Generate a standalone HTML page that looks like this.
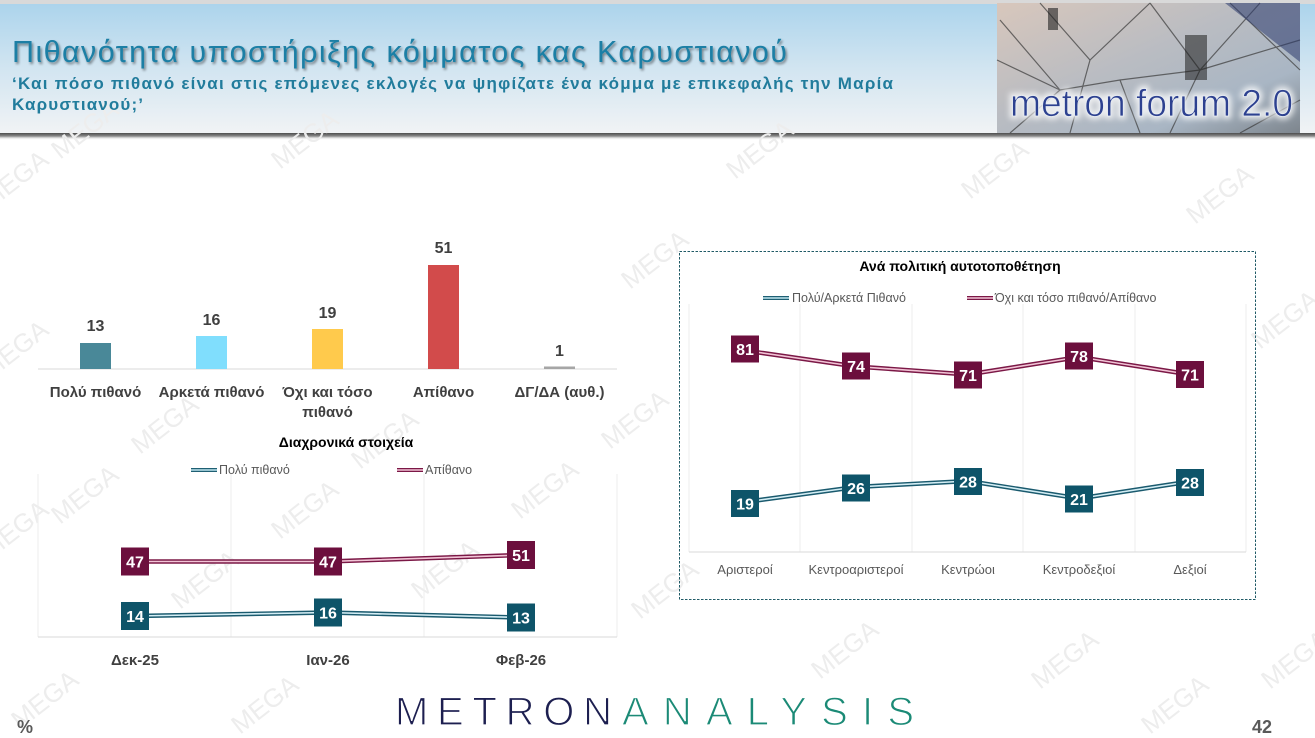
<!DOCTYPE html>
<html><head><meta charset="utf-8">
<style>
html,body{margin:0;padding:0;background:#fff;}
svg{display:block;}
text{font-family:"Liberation Sans","DejaVu Sans",sans-serif;}
</style></head>
<body>
<svg width="1315" height="738" viewBox="0 0 1315 738" xmlns="http://www.w3.org/2000/svg">
<defs>
<linearGradient id="hdr" x1="0" y1="0" x2="0" y2="1">
<stop offset="0" stop-color="#acd4ec"/>
<stop offset="0.5" stop-color="#d2e5f1"/>
<stop offset="1" stop-color="#f1f3f5"/>
</linearGradient>
<linearGradient id="shd" x1="0" y1="0" x2="0" y2="1">
<stop offset="0" stop-color="#4d4d4d"/>
<stop offset="0.45" stop-color="#8a8a8a"/>
<stop offset="1" stop-color="#ffffff" stop-opacity="0"/>
</linearGradient>
<linearGradient id="logo" x1="0" y1="0" x2="1" y2="1">
<stop offset="0" stop-color="#d8c7bc"/>
<stop offset="0.45" stop-color="#b9bcc2"/>
<stop offset="0.75" stop-color="#a9b6c4"/>
<stop offset="1" stop-color="#7d858d"/>
</linearGradient>
<filter id="ts" x="-5%" y="-20%" width="110%" height="150%">
<feGaussianBlur in="SourceAlpha" stdDeviation="1.2"/>
<feOffset dx="1.5" dy="2" result="o"/>
<feComponentTransfer><feFuncA type="linear" slope="0.45"/></feComponentTransfer>
<feMerge><feMergeNode/><feMergeNode in="SourceGraphic"/></feMerge>
</filter>
<filter id="glow" x="-10%" y="-30%" width="120%" height="160%">
<feGaussianBlur stdDeviation="3"/>
</filter>
</defs>

<!-- header background -->
<rect x="0" y="0" width="1315" height="4" fill="#d9d9d9"/>
<rect x="0" y="4" width="1315" height="130" fill="url(#hdr)"/>
<rect x="0" y="133" width="1315" height="7" fill="url(#shd)"/>

<!-- watermarks -->
<g font-size="26" fill="#ededed">
<text transform="translate(60,160) rotate(-38)">MEGA</text>
<text transform="translate(280,170) rotate(-38)">MEGA</text>
<text transform="translate(735,180) rotate(-38)">MEGA</text>
<text transform="translate(970,200) rotate(-38)">MEGA</text>
<text transform="translate(1195,225) rotate(-38)">MEGA</text>
<text transform="translate(-10,210) rotate(-38)">MEGA</text>
<text transform="translate(630,290) rotate(-38)">MEGA</text>
<text transform="translate(1260,350) rotate(-38)">MEGA</text>
<text transform="translate(-10,380) rotate(-38)">MEGA</text>
<text transform="translate(140,455) rotate(-38)">MEGA</text>
<text transform="translate(360,470) rotate(-38)">MEGA</text>
<text transform="translate(610,450) rotate(-38)">MEGA</text>
<text transform="translate(60,525) rotate(-38)">MEGA</text>
<text transform="translate(280,540) rotate(-38)">MEGA</text>
<text transform="translate(520,520) rotate(-38)">MEGA</text>
<text transform="translate(-10,560) rotate(-38)">MEGA</text>
<text transform="translate(180,610) rotate(-38)">MEGA</text>
<text transform="translate(420,600) rotate(-38)">MEGA</text>
<text transform="translate(640,620) rotate(-38)">MEGA</text>
<text transform="translate(820,680) rotate(-38)">MEGA</text>
<text transform="translate(1040,690) rotate(-38)">MEGA</text>
<text transform="translate(1270,690) rotate(-38)">MEGA</text>
<text transform="translate(20,730) rotate(-38)">MEGA</text>
<text transform="translate(240,735) rotate(-38)">MEGA</text>
<text transform="translate(1150,735) rotate(-38)">MEGA</text>
</g>

<text x="12" y="62" font-size="30.5" fill="#1c7fa5" filter="url(#ts)" textLength="775" lengthAdjust="spacing">Πιθανότητα υποστήριξης κόμματος κας Καρυστιανού</text>
<text x="12" y="89" font-size="17" font-weight="bold" fill="#217c9c" textLength="881" lengthAdjust="spacing">‘Και πόσο πιθανό είναι στις επόμενες εκλογές να ψηφίζατε ένα κόμμα με επικεφαλής την Μαρία</text>
<text x="12" y="110" font-size="17" font-weight="bold" fill="#217c9c" textLength="131" lengthAdjust="spacing">Καρυστιανού;’</text>

<!-- logo image approximation -->
<rect x="997" y="3" width="303" height="130" fill="url(#logo)"/>
<g stroke="#3a3a3a" stroke-width="1.2" fill="none" opacity="0.7">
<path d="M1000,20 L1060,90 L1010,133"/>
<path d="M1040,3 L1090,60 L1150,3"/>
<path d="M1090,60 L1070,133"/>
<path d="M1150,3 L1200,70 L1260,3"/>
<path d="M1200,70 L1300,40"/>
<path d="M1200,70 L1170,133"/>
<path d="M1230,3 L1300,70"/>
<path d="M997,60 L1060,90 L1120,80 L1200,70"/>
<path d="M1120,80 L1140,133"/>
<path d="M1240,133 L1300,100"/>
</g>
<path d="M1225,3 L1300,62 L1300,3 Z" fill="#2c3b6e" opacity="0.55"/>
<rect x="1048" y="8" width="10" height="22" fill="#222" opacity="0.6"/>
<rect x="1185" y="35" width="22" height="45" fill="#1f1f1f" opacity="0.55"/>
<text x="1010" y="116" font-size="38" fill="#ffffff" stroke="#ffffff" stroke-width="6" opacity="0.75" filter="url(#glow)" textLength="283" lengthAdjust="spacingAndGlyphs">metron forum 2.0</text>
<text x="1010" y="116" font-size="38" fill="#2d4190" stroke="#e8edf3" stroke-width="0.8" textLength="283" lengthAdjust="spacingAndGlyphs">metron forum 2.0</text>

<!-- bar chart -->
<line x1="38" y1="369" x2="617" y2="369" stroke="#d9d9d9" stroke-width="1"/>
<rect x="80" y="343" width="31" height="26" fill="#498898"/>
<rect x="196" y="336" width="31" height="33" fill="#80defd"/>
<rect x="312" y="329" width="31" height="40" fill="#ffca4c"/>
<rect x="428" y="265" width="31" height="104" fill="#d24b4b"/>
<rect x="544" y="366.5" width="31" height="2.5" fill="#a6a6a6"/>
<g font-size="16" font-weight="bold" fill="#404040" text-anchor="middle">
<text x="95.5" y="331">13</text>
<text x="211.5" y="325">16</text>
<text x="327.5" y="318">19</text>
<text x="443.5" y="253">51</text>
<text x="559.5" y="356">1</text>
</g>
<g font-size="15" font-weight="bold" fill="#404040" text-anchor="middle">
<text x="95.5" y="397">Πολύ πιθανό</text>
<text x="211.5" y="397">Αρκετά πιθανό</text>
<text x="327.5" y="397">Όχι και τόσο</text>
<text x="327.5" y="417">πιθανό</text>
<text x="443.5" y="397">Απίθανο</text>
<text x="559.5" y="397">ΔΓ/ΔΑ (αυθ.)</text>
</g>

<!-- line chart: Διαχρονικά -->
<text x="346" y="447" font-size="14" font-weight="bold" fill="#000" text-anchor="middle">Διαχρονικά στοιχεία</text>
<line x1="191" y1="470" x2="217" y2="470" stroke="#1f5f73" stroke-width="4"/>
<line x1="191" y1="470" x2="217" y2="470" stroke="#bfe6f0" stroke-width="1.5"/>
<text x="219" y="474" font-size="12.5" fill="#595959">Πολύ πιθανό</text>
<line x1="397" y1="470" x2="423" y2="470" stroke="#7b1846" stroke-width="4"/>
<line x1="397" y1="470" x2="423" y2="470" stroke="#f2c4d6" stroke-width="1.5"/>
<text x="425" y="474" font-size="12.5" fill="#595959">Απίθανο</text>
<g stroke="#eeeeee" stroke-width="1">
<line x1="38" y1="474" x2="38" y2="637"/>
<line x1="231" y1="474" x2="231" y2="637"/>
<line x1="424" y1="474" x2="424" y2="637"/>
<line x1="617" y1="474" x2="617" y2="637"/>
</g>
<line x1="38" y1="637" x2="617" y2="637" stroke="#d9d9d9" stroke-width="1"/>
<path d="M135,561.5 L328,561.5 L521,555" fill="none" stroke="#7b1846" stroke-width="4.5"/>
<path d="M135,561.5 L328,561.5 L521,555" fill="none" stroke="#f2c4d6" stroke-width="1.6"/>
<path d="M135,616 L328,612.5 L521,617.5" fill="none" stroke="#1a5a6e" stroke-width="4.5"/>
<path d="M135,616 L328,612.5 L521,617.5" fill="none" stroke="#d4eef5" stroke-width="1.6"/>
<g fill="#6c0f3d">
<rect x="121" y="547.5" width="28" height="28"/>
<rect x="314" y="547.5" width="28" height="28"/>
<rect x="507" y="541" width="28" height="28"/>
</g>
<g fill="#0e5469">
<rect x="121" y="602" width="28" height="28"/>
<rect x="314" y="598.5" width="28" height="28"/>
<rect x="507" y="603.5" width="28" height="28"/>
</g>
<g font-size="16" font-weight="bold" fill="#fff" text-anchor="middle">
<text x="135" y="567.5">47</text>
<text x="328" y="567.5">47</text>
<text x="521" y="561">51</text>
<text x="135" y="622">14</text>
<text x="328" y="618.5">16</text>
<text x="521" y="623.5">13</text>
</g>
<g font-size="15" font-weight="bold" fill="#404040" text-anchor="middle">
<text x="135" y="665">Δεκ-25</text>
<text x="328" y="665">Ιαν-26</text>
<text x="521" y="665">Φεβ-26</text>
</g>

<!-- right chart -->
<rect x="679.5" y="251.5" width="576" height="348" fill="none" stroke="#1f5a66" stroke-width="1" stroke-dasharray="2.5,1.5"/>
<text x="960" y="271" font-size="14" font-weight="bold" fill="#000" text-anchor="middle">Ανά πολιτική αυτοτοποθέτηση</text>
<line x1="763" y1="298" x2="789" y2="298" stroke="#1f5f73" stroke-width="4"/>
<line x1="763" y1="298" x2="789" y2="298" stroke="#bfe6f0" stroke-width="1.5"/>
<text x="792" y="302" font-size="12.5" fill="#595959">Πολύ/Αρκετά Πιθανό</text>
<line x1="967" y1="298" x2="993" y2="298" stroke="#7b1846" stroke-width="4"/>
<line x1="967" y1="298" x2="993" y2="298" stroke="#f2c4d6" stroke-width="1.5"/>
<text x="995" y="302" font-size="12.5" fill="#595959">Όχι και τόσο πιθανό/Απίθανο</text>
<g stroke="#eeeeee" stroke-width="1">
<line x1="689" y1="304" x2="689" y2="552"/>
<line x1="800" y1="304" x2="800" y2="552"/>
<line x1="912" y1="304" x2="912" y2="552"/>
<line x1="1023" y1="304" x2="1023" y2="552"/>
<line x1="1135" y1="304" x2="1135" y2="552"/>
<line x1="1246" y1="304" x2="1246" y2="552"/>
</g>
<line x1="689" y1="552" x2="1246" y2="552" stroke="#d9d9d9" stroke-width="1"/>
<path d="M745,350.5 L856,366.5 L968,374.5 L1079,357 L1190,374.5" fill="none" stroke="#7b1846" stroke-width="4.5"/>
<path d="M745,350.5 L856,366.5 L968,374.5 L1079,357 L1190,374.5" fill="none" stroke="#f2c4d6" stroke-width="1.6"/>
<path d="M745,502 L856,487 L968,481 L1079,498.5 L1190,481.5" fill="none" stroke="#1a5a6e" stroke-width="4.5"/>
<path d="M745,502 L856,487 L968,481 L1079,498.5 L1190,481.5" fill="none" stroke="#d4eef5" stroke-width="1.6"/>
<g fill="#6c0f3d">
<rect x="731" y="335.5" width="28" height="27"/>
<rect x="842" y="352.5" width="28" height="27"/>
<rect x="954" y="361.5" width="28" height="27"/>
<rect x="1065" y="342.5" width="28" height="27"/>
<rect x="1176" y="361" width="28" height="27"/>
</g>
<g fill="#0e5469">
<rect x="731" y="490" width="28" height="27"/>
<rect x="842" y="474.5" width="28" height="27"/>
<rect x="954" y="468" width="28" height="27"/>
<rect x="1065" y="485.5" width="28" height="27"/>
<rect x="1176" y="469" width="28" height="27"/>
</g>
<g font-size="16" font-weight="bold" fill="#fff" text-anchor="middle">
<text x="745" y="355">81</text>
<text x="856" y="372">74</text>
<text x="968" y="381">71</text>
<text x="1079" y="362">78</text>
<text x="1190" y="380.5">71</text>
<text x="745" y="509.5">19</text>
<text x="856" y="494">26</text>
<text x="968" y="487.5">28</text>
<text x="1079" y="505">21</text>
<text x="1190" y="488.5">28</text>
</g>
<g font-size="13" fill="#595959" text-anchor="middle">
<text x="745" y="574">Αριστεροί</text>
<text x="856" y="574">Κεντροαριστεροί</text>
<text x="968" y="574">Κεντρώοι</text>
<text x="1079" y="574">Κεντροδεξιοί</text>
<text x="1190" y="574">Δεξιοί</text>
</g>

<!-- footer -->
<text x="395" y="725" font-size="40" fill="#1d1f50" stroke="#ffffff" stroke-width="1.2" textLength="217" lengthAdjust="spacing">METRON</text>
<text x="622" y="725" font-size="40" fill="#1b8a76" stroke="#ffffff" stroke-width="1.2" textLength="292" lengthAdjust="spacing">ANALYSIS</text>
<text x="17" y="733" font-size="18" font-weight="bold" fill="#595959">%</text>
<text x="1252" y="733" font-size="18" font-weight="bold" fill="#595959">42</text>
</svg>
</body></html>
